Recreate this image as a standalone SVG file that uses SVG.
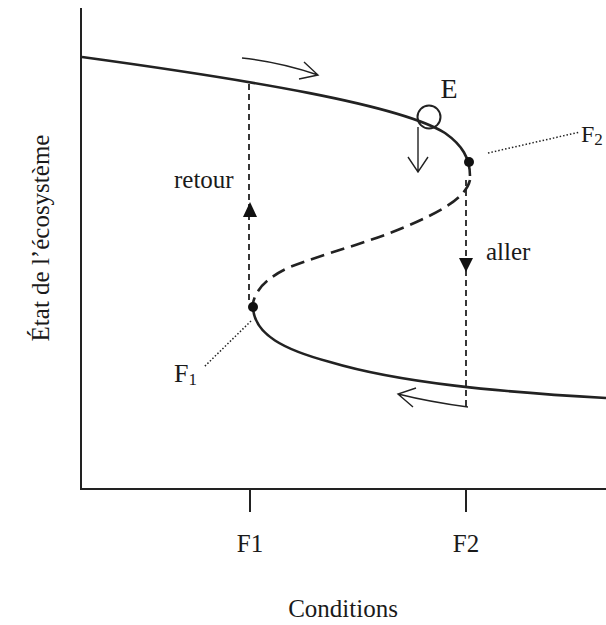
<svg xmlns="http://www.w3.org/2000/svg" width="606" height="625" viewBox="0 0 606 625">
<style>
.t{font-family:"Liberation Serif","Times New Roman",serif;fill:#1a1a1a}
.ax{stroke:#222;stroke-width:2;fill:none}
.cv{stroke:#222;stroke-width:2.6;fill:none}
.dv{stroke:#222;stroke-width:1.8;fill:none;stroke-dasharray:6 4}
.dt{stroke:#222;stroke-width:1.5;fill:none;stroke-dasharray:1.5 2}
.th{stroke:#222;stroke-width:1.4;fill:none}
</style>
<rect width="606" height="625" fill="#fff"/>
<g id="axes">
<path class="ax" d="M81,8 V489 H606"/>
<path class="ax" d="M250,489 V512 M466,489 V512"/>
</g>
<g id="labels">
<text class="t" x="250" y="552" font-size="25" text-anchor="middle">F1</text>
<text class="t" x="466" y="552" font-size="25" text-anchor="middle">F2</text>
<text class="t" x="343" y="617" font-size="25" text-anchor="middle">Conditions</text>
<text class="t" transform="translate(49,238) rotate(-90)" font-size="25" text-anchor="middle">État de l’écosystème</text>
</g>
<g id="connectors">
<path id="upper" class="cv" d="M82,57 C250,80 400,105 445,133 C462,145 470,158 470,176"/>
<path id="middle" class="cv" stroke-dasharray="14 7" d="M470,180 C466,198 440,212 405,227 C370,242 320,255 290,267 C270,276 256,288 253,303"/>
<path id="lower" class="cv" d="M253,307 C254,335 285,350 330,362 C400,383 500,392 606,398"/>
<path id="retour" class="dv" d="M249,84 V300"/>
<path id="aller" class="dv" d="M466,180 V406"/>
<polygon points="250,202 243,217 257,217" fill="#111"/>
<polygon points="466,272 459,258 473,258" fill="#111"/>
<path class="th" d="M242,58 Q280,62 318,75 M304,62 L318,75 L299,79"/>
<path class="th" d="M468,407 Q430,402 398,394 M416,388 L398,394 L413,407"/>
<path class="th" d="M418,127 V172 M408,157 L418,172 L428,157"/>
<path class="dt" d="M488,153 L580,132"/>
<path class="dt" d="M251,321 L204,367"/>
</g>
<g id="F2node">
<circle cx="469" cy="162" r="5" fill="#111"/>
<text class="t" x="581" y="142" font-size="24">F<tspan font-size="17" dy="3">2</tspan></text>
</g>
<g id="F1node">
<circle cx="253" cy="307" r="5" fill="#111"/>
<text class="t" x="174" y="382" font-size="26">F<tspan font-size="17" dy="3">1</tspan></text>
</g>
<g id="E">
<circle cx="429" cy="117" r="11.5" fill="none" stroke="#222" stroke-width="2"/>
<text class="t" x="449" y="98" font-size="28" text-anchor="middle">E</text>
</g>
<g id="texts">
<text class="t" x="174" y="188" font-size="25">retour</text>
<text class="t" x="486" y="260" font-size="25">aller</text>
</g>
</svg>
